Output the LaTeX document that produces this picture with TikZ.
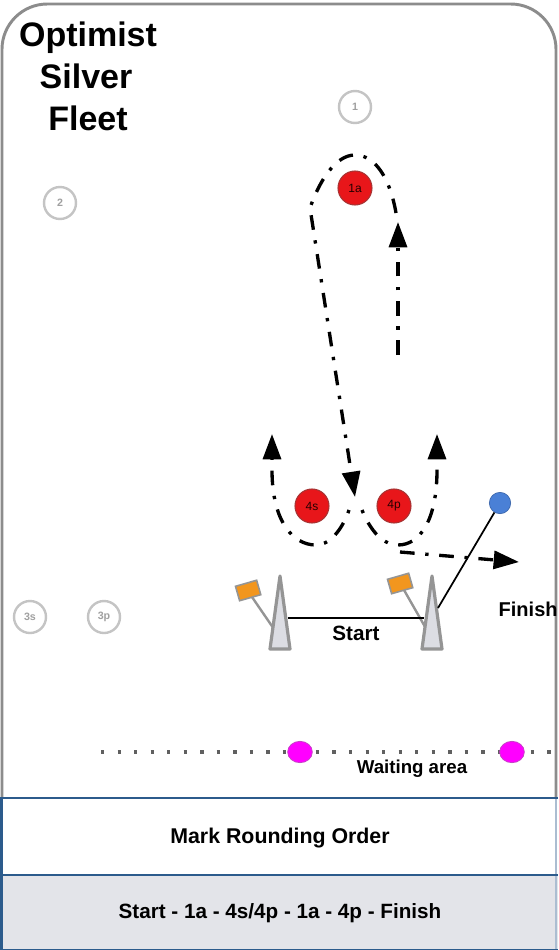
\documentclass[tikz,border=0pt]{standalone}
\usepackage{fontspec}
\setmainfont{Liberation Sans}
\usetikzlibrary{arrows.meta,shapes.geometric}

\definecolor{framegray}{HTML}{8C8C8C}
\definecolor{markgray}{HTML}{C4C4C4}
\definecolor{marktext}{HTML}{A0A0A0}
\definecolor{markred}{HTML}{E8161A}
\definecolor{markrim}{HTML}{A83434}
\definecolor{finblue}{HTML}{4A80D6}
\definecolor{waitpink}{HTML}{FF00FF}
\definecolor{waitrim}{HTML}{C840C8}
\definecolor{flagorange}{HTML}{F2961E}
\definecolor{buoyfill}{HTML}{DCDDE3}
\definecolor{buoygray}{HTML}{959595}
\definecolor{panelblue}{HTML}{2C5B8C}
\definecolor{panelgray}{HTML}{E3E4E9}
\definecolor{dotgray}{HTML}{606060}

\tikzset{
  >={Triangle[length=19pt,width=13.5pt]},
  course/.style={line width=2.5pt, dash pattern=on 11pt off 8pt on 2.5pt off 8pt},
  coursedot/.style={line width=2.5pt, dash pattern=on 2.5pt off 8pt on 11pt off 8pt},
  oldmark/.style={circle, draw=markgray, line width=1.8pt, fill=white,
    minimum size=24pt, inner sep=0pt, text=marktext,
    font=\fontsize{8}{8}\selectfont\bfseries},
  redmark/.style={circle, fill=markred, draw=markrim, line width=0.8pt,
    minimum size=25.5pt, inner sep=0pt, text=black!85!red,
    font=\fontsize{9}{9}\selectfont},
  finmark/.style={circle, fill=finblue, draw=finblue!80!black, line width=0.5pt,
    minimum size=16pt, inner sep=0pt},
  waitmark/.style={ellipse, fill=waitpink, draw=waitrim, line width=0.6pt,
    minimum width=18.5pt, minimum height=16pt, inner sep=0pt},
  buoy/.style={draw=buoygray, fill=buoyfill, line width=2.4pt, line join=round},
  flag/.style={draw=buoygray, fill=flagorange, line width=1.2pt},
  pole/.style={draw=buoygray, line width=1.8pt},
  titletext/.style={font=\fontsize{25.5}{25.5}\selectfont\bfseries, anchor=base},
  labeltext/.style={font=\fontsize{15.5}{15.5}\selectfont\bfseries, anchor=base},
}

\begin{document}
\begin{tikzpicture}[x=0.75pt,y=-0.75pt]
\useasboundingbox (0,0) rectangle (558,950);
\fill[white] (0,0) rectangle (558,950);

% outer frame with rounded top corners
\draw[framegray, line width=2.2pt]
  (2,798) {[rounded corners=34pt] -- (2,4) -- (556,4)} -- (556,798);

% title
\node[titletext] (t1) at (88,46) {Optimist};
\node[titletext] (t2) at (86,88) {Silver};
\node[titletext] (t3) at (88,130) {Fleet};

% unused course marks
\node[oldmark] (m1) at (355,107) {1};
\node[oldmark] (m2) at (60,203) {2};
\node[oldmark] (m3s) at (30,617) {3s};
\node[oldmark] (m3p) at (104,617) {3p};

% sailed course
\draw[course, ->] (398,355) -- (398,222);
\draw[course, ->] (396,213) .. controls (390,178) and (375,155) .. (355,155)
  .. controls (335,155) and (319,182) .. (310,208) -- (355,497);
\draw[coursedot, ->] (349,510) .. controls (344,525) and (332,545) .. (316,545)
  .. controls (292,545) and (272,520) .. (272,470) -- (272,434);
\draw[coursedot, ->] (362,510) .. controls (368,525) and (380,545) .. (398,545)
  .. controls (420,545) and (437,520) .. (437,470) -- (437,434);
\draw[course, ->] (400,552) -- (519,562);

% rounding marks
\node[redmark] (m1a) at (355,188) {1a};
\node[redmark] (m4s) at (312,506) {4s};
\node[redmark] (m4p) at (394,506) {4p};

% start and finish marks
\node[finmark] (fin) at (500,503) {};
\coordinate (sL) at (288,618);
\coordinate (sR) at (424,618);
\coordinate (fR) at (438,608);

\draw[pole] (252,597) -- (276,632);
\draw[flag, rotate around={16:(248,590)}] (237,583) rectangle (259,598);
\draw[pole] (404,590) -- (428,632);
\draw[flag, rotate around={16:(400,583)}] (389,576) rectangle (411,591);

\draw[buoy] (270,649) -- (280,576) -- (290,649) -- cycle;
\draw[buoy] (422,649) -- (432,576) -- (442,649) -- cycle;

\draw[line width=1.6pt] (sL) -- (sR);
\draw[line width=1.3pt] (fin) -- (fR);

\node[labeltext] (start) at (356,640) {Start};
\node[labeltext, font=\fontsize{15}{15}\selectfont\bfseries, anchor=base west] (finish) at (494,616) {Finish};

% waiting area
\draw[dotgray, line width=2.5pt, dash pattern=on 2.5pt off 9.9pt] (101,752) -- (558,752);
\node[waitmark] (w1) at (300,752) {};
\node[waitmark] (w2) at (512,752) {};
\node[font=\fontsize{14}{14}\selectfont\bfseries, anchor=base] (wait) at (412,773) {Waiting area};

% rounding order panel
\fill[panelgray] (0,875) rectangle (558,950);
\draw[panelblue!40, line width=0.8pt] (556,798) -- (556,950);
\draw[panelblue, line width=2.2pt] (0,798) -- (558,798);
\draw[panelblue, line width=2.2pt] (0,875) -- (558,875);
\draw[panelblue, line width=2.2pt] (1.5,798) -- (1.5,950);
\draw[panelblue, line width=1.2pt] (0,949.4) -- (558,949.4);
\node[font=\fontsize{16}{16}\selectfont\bfseries] (ordertitle) at (280,838) {Mark Rounding Order};
\node[font=\fontsize{15.5}{15.5}\selectfont\bfseries] (order) at (280,913) {Start - 1a - 4s/4p - 1a - 4p - Finish};
\end{tikzpicture}
\end{document}
